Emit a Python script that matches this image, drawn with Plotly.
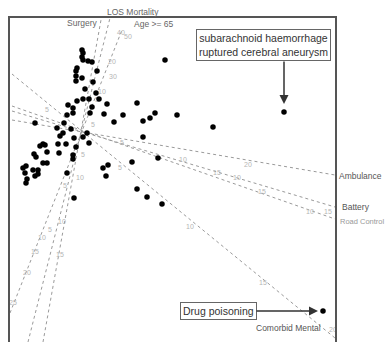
import plotly.graph_objects as go

# ---- observation scores (biplot coordinates) ----
pt_x = [-0.3, -0.2, -0.3, -0.2, 0.3, 0.7, -0.8, -0.9, 1.2, -0.9, -0.3, -0.9, 0.8, 0.0, 1.1, 1.4, 0.4, -0.2,
        -0.8, -1.2, -1.7, 0.7, 2.2, 5.2, 8.0, -1.8, -1.2, 0.5, 1.9, 3.8, 7.0, 9.2, 5.8, 6.5, 2.9, -5.0, -2.1,
        -2.8, -1.4, -2.2, -2.5, 0.2, -1.1, -0.2, 0.4, 5.8, -4.5, -4.2, -4.0, -2.7, -1.9, -3.8, -0.9, -2.6,
        -5.1, -4.9, -1.2, -1.2, -4.2, -3.8, -6.2, -5.9, -5.2, -4.7, -6.0, -4.7, -5.8, -5.9, -5.0, -1.8, 1.8,
        2.3, 4.7, 2.1, 7.3, 5.2, 6.2, 7.7, -1.1, 12.8, 19.9, 23.8]
pt_y = [8.5, 8.2, 7.8, 7.5, 7.4, 7.3, 6.7, 6.4, 6.4, 5.9, 5.7, 5.4, 5.3, 4.6, 4.2, 3.6, 3.6, 3.6,
        3.4, 2.7, 3.0, 2.8, 3.1, 3.2, 7.5, 2.0, 2.2, 2.2, 2.1, 2.0, 2.2, 2.0, 1.4, 1.7, 1.3, 1.2, 1.2,
        0.7, 0.6, 0.2, -0.1, 0.2, -0.3, -0.2, -0.8, -0.2, -1.1, -0.9, -1.0, -0.9, -0.9, -1.7, -1.2, -1.8,
        -1.9, -2.2, -2.0, -2.4, -2.8, -2.8, -3.3, -3.1, -3.5, -3.5, -3.8, -3.9, -4.4, -4.8, -4.1, -3.8, -3.3,
        -3.0, -2.7, -4.1, -2.3, -5.4, -6.2, -6.9, -6.3, 0.8, 2.3, -17.6]

# ---- variable axes (start and end in biplot coordinates) ----
var_names = ["Ambulance", "Battery", "Road Control", "Comorbid Mental", "Surgery", "LOS Mortality", "Age >= 65"]
var_x0 = [-7.3, -7.3, -7.3, -7.3, -4.2, -5.7, -7.5]
var_y0 = [1.5, 2.4, 2.9, 6.1, -20.7, -20.7, -17.8]
var_x1 = [25.0, 25.0, 25.0, 25.0, 1.6, 2.5, 3.7]
var_y1 = [-4.0, -7.2, -8.4, -20.3, 11.5, 11.7, 10.5]
# label positions (same biplot units; may lie outside the frame)
lab_x = [25.2, 25.5, 25.3, 23.8, 1.5, 2.0, 4.7]
lab_y = [-4.1, -7.2, -8.7, -19.3, 11.2, 12.3, 11.1]
lab_anchor = ["left", "left", "left", "right", "right", "left", "left"]
lab_color = ["#555", "#555", "#999", "#555", "#666", "#666", "#666"]
lab_size = [8.5, 8.5, 7.5, 8.5, 8.5, 8.5, 8.5]

# ---- calibration marks along the axes ----
cal_x = [3.6, 4.3, 2.7, 2.8, 1.7, 1.2, 3.7, 9.8, 13.2, 15.2, 16.3, 17.7, 22.5, 24.3,
         3.5, 10.5, 17.8, 24.8, -2.0, -2.3, -3.5, -4.3, -5.0, -5.8, -2.5, -7.2, -3.8, 0.8, -0.2, -0.5]
cal_y = [10.2, 9.8, 7.3, 5.8, 4.3, 3.5, -0.8, -2.5, -3.8, -4.3, -3.0, -5.7, -7.7, -7.7,
         -3.3, -9.2, -14.8, -19.5, -5.1, -8.7, -9.5, -10.3, -11.7, -13.8, -12.0, -16.8, 2.5, 1.0, -2.0, -4.3]
cal_txt = ["40", "50", "20", "30", "10", "5", "5", "10", "15", "10", "20", "15", "10", "15",
           "5", "10", "15", "20", "5", "10", "5", "10", "15", "20", "15", "25", "5", "5", "5", "10"]

# ---- highlighted cases ----
note_txt = ["subarachnoid haemorrhage<br>ruptured cerebral aneurysm", "Drug poisoning"]
note_x = [17.8, 13.3]
note_y = [9.0, -17.6]
arrow_tail_x = [19.9, 17.0]
arrow_tail_y = [7.5, -17.6]
arrow_head_x = [19.9, 23.3]
arrow_head_y = [3.1, -17.6]

X_RANGE = [-7.5, 25.0]
Y_RANGE = [-20.7, 11.7]


def to_paper(v, rng):
    return (v - rng[0]) / (rng[1] - rng[0])


fig = go.Figure()
for i, name in enumerate(var_names):
    fig.add_trace(go.Scatter(x=[var_x0[i], var_x1[i]], y=[var_y0[i], var_y1[i]], mode="lines",
                             line=dict(color="#9a9a9a", width=1, dash="dot"), hoverinfo="skip",
                             showlegend=False))

fig.add_trace(go.Scatter(x=cal_x, y=cal_y, mode="text", text=cal_txt,
                         textfont=dict(size=7, color="#b5b5b5", family="Liberation Sans"),
                         showlegend=False, hoverinfo="skip"))

fig.add_trace(go.Scatter(x=pt_x, y=pt_y, mode="markers",
                         marker=dict(color="black", size=5.5), showlegend=False))

ann = []
for i, name in enumerate(var_names):
    ann.append(dict(x=to_paper(lab_x[i], X_RANGE), y=to_paper(lab_y[i], Y_RANGE), xref="paper", yref="paper",
                    text=name, showarrow=False, xanchor=lab_anchor[i], yanchor="middle",
                    font=dict(size=lab_size[i], color=lab_color[i], family="Liberation Sans")))
for i, t in enumerate(note_txt):
    ann.append(dict(x=note_x[i], y=note_y[i], text=t, showarrow=False, xanchor="center", yanchor="middle",
                    font=dict(size=10.5, color="#333", family="Liberation Sans"),
                    bordercolor="#666", borderwidth=1, borderpad=2, bgcolor="white"))
    ann.append(dict(x=arrow_head_x[i], y=arrow_head_y[i], ax=arrow_tail_x[i], ay=arrow_tail_y[i],
                    axref="x", ayref="y", xref="x", yref="y", text="", showarrow=True,
                    arrowhead=2, arrowsize=1.2, arrowwidth=1.5, arrowcolor="#333"))

fig.update_layout(
    width=386, height=342, margin=dict(l=10, r=51, t=18, b=0),
    plot_bgcolor="white", paper_bgcolor="white", annotations=ann,
    xaxis=dict(range=X_RANGE, side="top", showline=True, linecolor="#555", linewidth=1.5,
               mirror=False, showticklabels=False, ticks="", showgrid=False, zeroline=False),
    yaxis=dict(range=Y_RANGE, showline=True, linecolor="#555", linewidth=1.5,
               mirror=True, showticklabels=False, ticks="", showgrid=False, zeroline=False),
)
fig.write_html("out.html", config={"displayModeBar": False},
               post_script="document.body.style.margin='0px';document.body.style.overflow='hidden';")
